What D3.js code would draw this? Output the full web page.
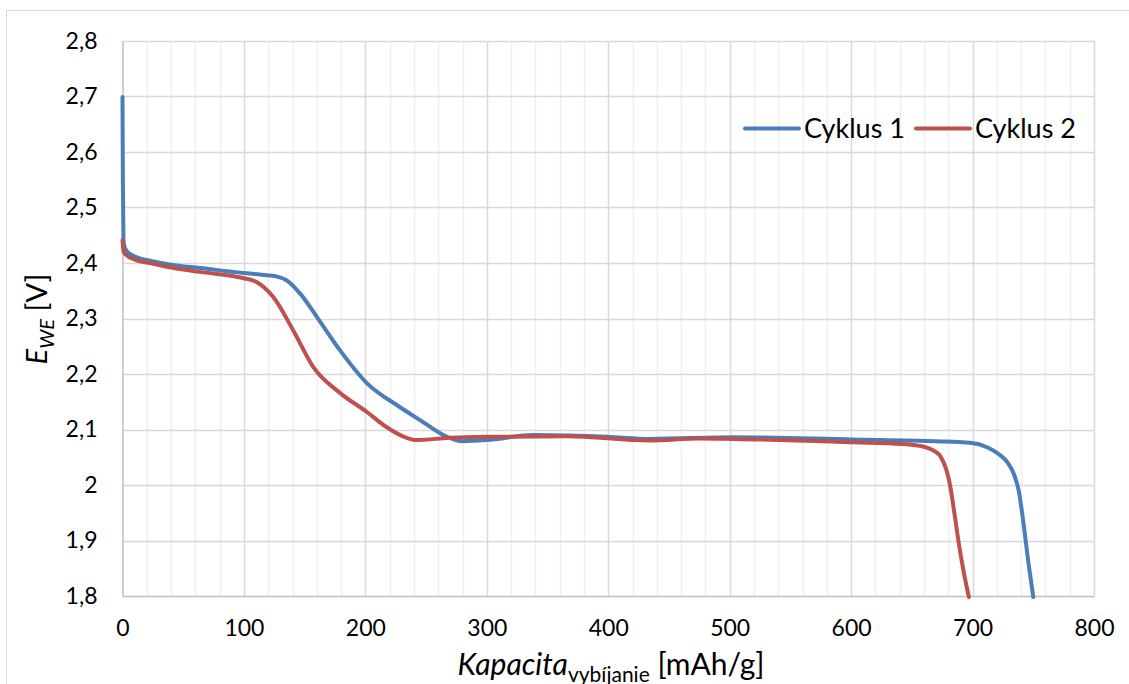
<!DOCTYPE html>
<html><head><meta charset="utf-8">
<script src="https://cdn.jsdelivr.net/npm/d3@7"></script>
<style>body{margin:0;background:#fff}svg{display:block}text{font-family:Lato,"Open Sans",sans-serif;fill:#000}</style>
</head><body>
<svg id="c" width="1129" height="684"></svg>
<script>
const seriesNames = ["Cyklus 1", "Cyklus 2"];
const seriesColors = ["#4a7ebb", "#c0504d"];
const xTicks = [0,100,200,300,400,500,600,700,800];
const yTicks = [1.8,1.9,2.0,2.1,2.2,2.3,2.4,2.5,2.6,2.7,2.8];
const yTickLabels = ["1,8","1,9","2","2,1","2,2","2,3","2,4","2,5","2,6","2,7","2,8"];
const cap1 = [0,0.3,0.8,2,3.4,8,15,22.6,40,64,99,118.7,128,135,147,160,179,201,228,245,267,280,300,338,399,434,504,601,670,698,712,722,729,734,738,742,746,750];
const e1 =   [2.699,2.55,2.44,2.427,2.422,2.414,2.408,2.404,2.397,2.391,2.382,2.378,2.375,2.369,2.343,2.303,2.243,2.184,2.141,2.117,2.087,2.079,2.081,2.090,2.087,2.083,2.086,2.082,2.079,2.076,2.068,2.055,2.040,2.020,1.990,1.930,1.860,1.798];
const cap2 = [0,0.4,1,3.4,10,22.6,40,64,99,110,124,140.5,157,179,201,217,234,242,269.5,311,366,434,475,504,601,642,660,668,674,678,681,685,689,693,697];
const e2 =   [2.441,2.43,2.42,2.414,2.406,2.400,2.392,2.384,2.373,2.366,2.339,2.279,2.213,2.166,2.132,2.105,2.085,2.081,2.085,2.087,2.088,2.080,2.084,2.083,2.077,2.074,2.069,2.062,2.050,2.030,2.005,1.950,1.890,1.840,1.798];

const svg = d3.select("#c");
const L=122.5, R=1094, T=41, B=596;
const x = d3.scaleLinear().domain([0,800]).range([L,R]);
const y = d3.scaleLinear().domain([1.8,2.8]).range([B,T]);
const FF = "Lato,'Open Sans',sans-serif";

// outer frame
svg.append("rect").attr("x",6.5).attr("y",10.5).attr("width",1140).attr("height",700)
  .attr("fill","none").attr("stroke","#d9d9d9").attr("stroke-width",1);

// minor vertical grid
const minor = d3.range(20,800,20).filter(v=>v%100!==0);
svg.append("g").selectAll("line").data(minor).join("line")
  .attr("x1",d=>Math.round(x(d))+0.5).attr("x2",d=>Math.round(x(d))+0.5).attr("y1",T).attr("y2",B)
  .attr("stroke","#efefef").attr("stroke-width",1.5);
// major grid
svg.append("g").selectAll("line").data(xTicks.slice(1)).join("line")
  .attr("x1",d=>Math.round(x(d))+0.5).attr("x2",d=>Math.round(x(d))+0.5).attr("y1",T).attr("y2",B)
  .attr("stroke","#d9d9d9").attr("stroke-width",1.5);
svg.append("g").selectAll("line").data(yTicks.slice(1)).join("line")
  .attr("y1",d=>Math.round(y(d))+0.5).attr("y2",d=>Math.round(y(d))+0.5).attr("x1",L).attr("x2",R)
  .attr("stroke","#d9d9d9").attr("stroke-width",1.5);

// axes
const xAxis = d3.axisBottom(x).tickValues(xTicks).tickSize(0).tickPadding(24).tickFormat(d=>String(d));
const gx = svg.append("g").attr("transform",`translate(0,${B})`).call(xAxis);
gx.select(".domain").attr("stroke","#bfbfbf").attr("stroke-width",1.5);
gx.selectAll("text").attr("font-size",23).attr("font-family",FF);
const yAxis = d3.axisLeft(y).tickValues(yTicks).tickSize(0).tickPadding(25).tickFormat((d,i)=>yTickLabels[i]);
const gy = svg.append("g").attr("transform",`translate(${L},0)`).call(yAxis);
gy.select(".domain").attr("stroke","#bfbfbf").attr("stroke-width",1.5);
gy.selectAll("text").attr("font-size",23).attr("font-family",FF);

// lines
const line = d3.line().x(d=>x(d[0])).y(d=>y(d[1])).curve(d3.curveMonotoneX);
const data = [cap1.map((c,i)=>[c,e1[i]]), cap2.map((c,i)=>[c,e2[i]])];
svg.append("g").selectAll("path").data(data).join("path")
  .attr("d",line).attr("fill","none").attr("stroke",(d,i)=>seriesColors[i])
  .attr("stroke-width",4).attr("stroke-linejoin","round").attr("stroke-linecap","round");

// legend
const lg = svg.append("g");
const legX = [745, 916];
seriesNames.forEach((n,i)=>{
  lg.append("line").attr("x1",legX[i]).attr("x2",legX[i]+54).attr("y1",128.5).attr("y2",128.5)
    .attr("stroke",seriesColors[i]).attr("stroke-width",4).attr("stroke-linecap","round");
  lg.append("text").attr("x",legX[i]+59).attr("y",138).attr("font-size",27).text(n);
});

// axis titles
const xt = svg.append("text").attr("x",611).attr("y",675).attr("text-anchor","middle").attr("font-size",30);
xt.append("tspan").attr("font-style","italic").text("Kapacita");
xt.append("tspan").attr("font-size",21).attr("dy",7).text("vybíjanie");
xt.append("tspan").attr("dy",-7).text(" [mAh/g]");

const yt = svg.append("text").attr("transform","translate(47,319) rotate(-90)").attr("text-anchor","middle").attr("font-size",29);
yt.append("tspan").attr("font-style","italic").text("E");
yt.append("tspan").attr("font-style","italic").attr("font-size",20).attr("dy",7).text("WE");
yt.append("tspan").attr("dy",-7).text(" [V]");
</script>
</body></html>
